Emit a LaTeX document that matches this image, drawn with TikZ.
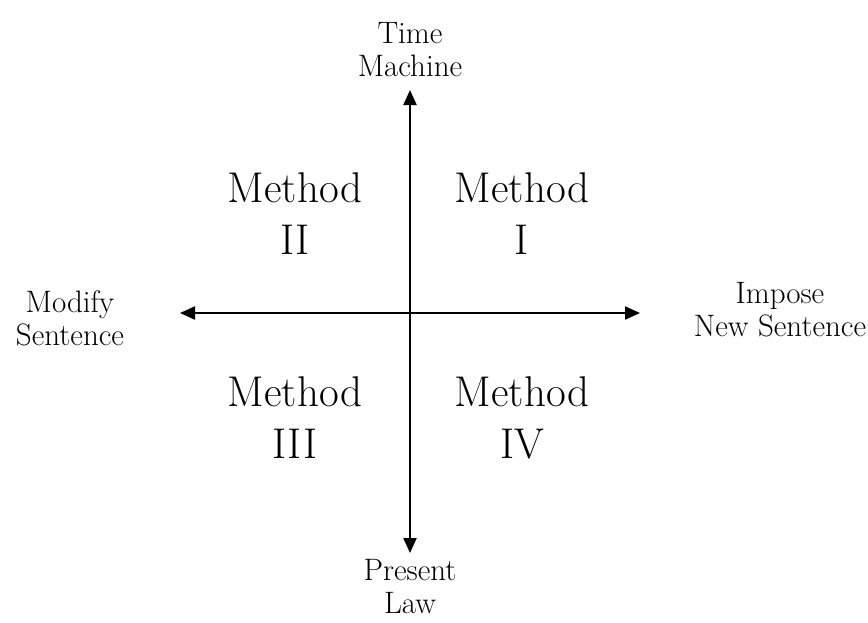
\documentclass[tikz,border=0pt]{standalone}
\usetikzlibrary{arrows.meta}
\begin{document}
\begin{tikzpicture}[x=1pt,y=-1pt,
  axislbl/.style={align=center,inner sep=0pt,font=\fontsize{31}{33}\selectfont},
  methodlbl/.style={align=center,inner sep=0pt,font=\fontsize{43}{52}\selectfont},
  axisline/.style={line width=2.2pt,-{Triangle[length=15pt,width=13pt]}}]
\useasboundingbox (0,0) rectangle (868,622);
\coordinate (c) at (410,313);
\coordinate (top) at (410,90);
\coordinate (bot) at (410,553);
\coordinate (lft) at (180,313);
\coordinate (rgt) at (640,313);
\draw[axisline] (c) -- (top);
\draw[axisline] (c) -- (bot);
\draw[axisline] (c) -- (lft);
\draw[axisline] (c) -- (rgt);
\node[axislbl] (tm) at (410,50) {Time\\Machine};
\node[axislbl] (pl) at (410,587) {Present\\Law};
\node[axislbl] (ms) at (70,318) {Modify\\Sentence};
\node[axislbl] (ns) at (780,310) {Impose\\New Sentence};
\node[methodlbl] (m2) at (295,214) {Method\\II};
\node[methodlbl] (m1) at (522,214) {Method\\I};
\node[methodlbl] (m3) at (295,418) {Method\\III};
\node[methodlbl] (m4) at (522,418) {Method\\IV};
\end{tikzpicture}
\end{document}
